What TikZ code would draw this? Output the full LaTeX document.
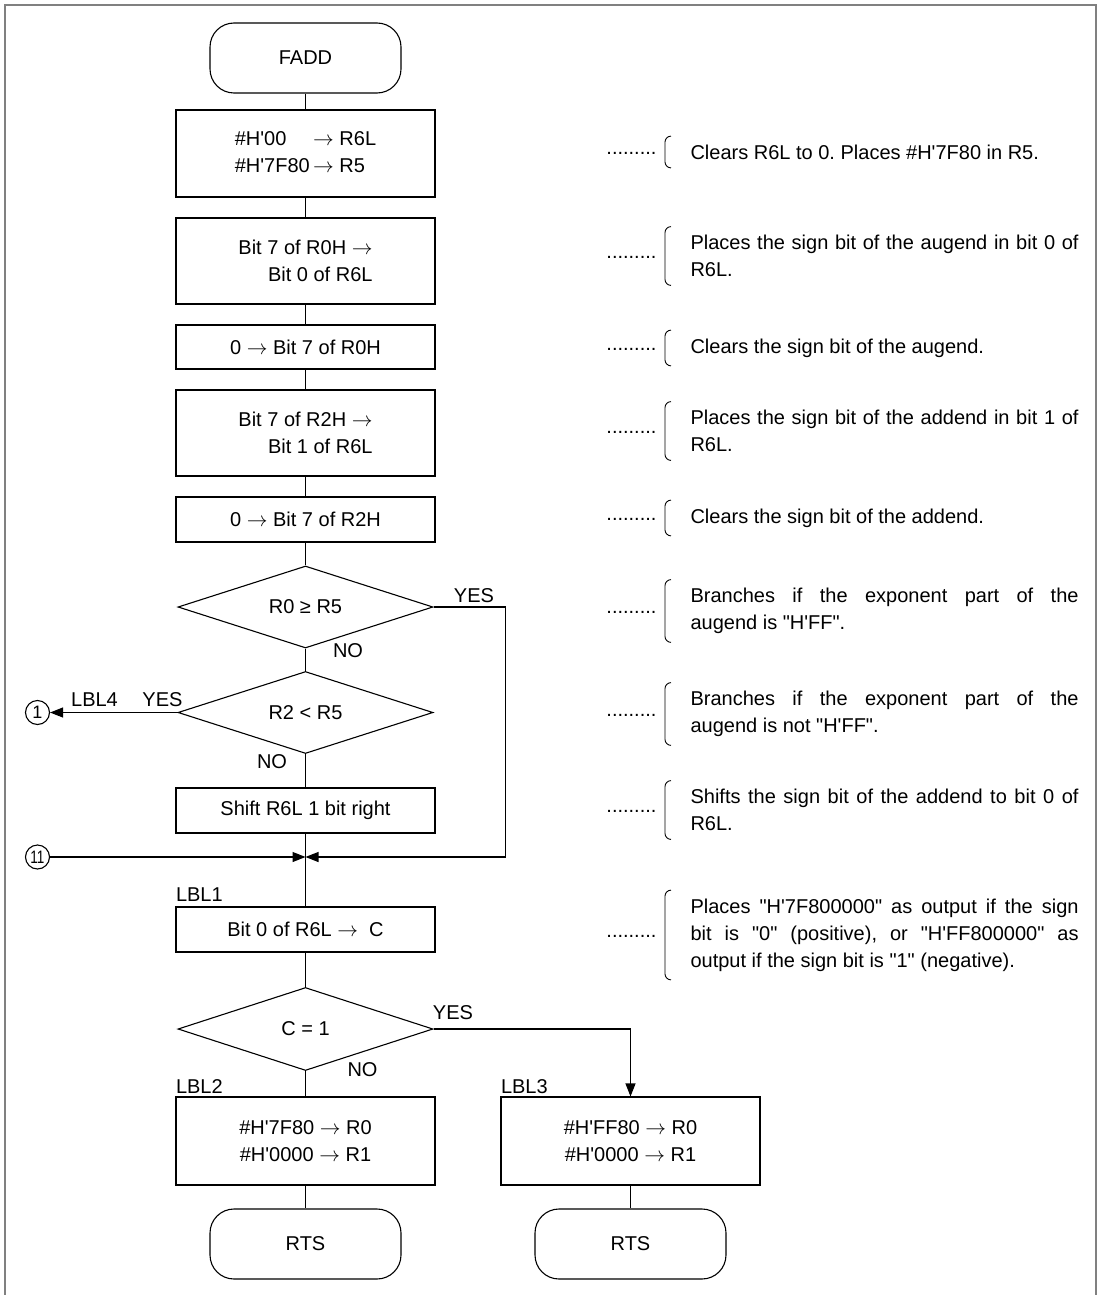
\documentclass[tikz,border=0pt]{standalone}
\usepackage{fontspec}
\setmainfont{Liberation Sans}[Ligatures=TeXOff]
\usetikzlibrary{arrows.meta,positioning,shapes.geometric}
\tikzset{
     terminal/.style = {draw, rectangle, rounded corners=24pt, minimum width=191pt, minimum height=70pt},
     proc/.style     = {draw, rectangle, minimum width=259pt, inner sep=0pt},
     test/.style     = {draw, diamond, aspect=3.1, minimum width=255pt, minimum height=82pt, inner sep=0pt},
     lbl/.style      = {inner sep=0pt},
     conn/.style     = {draw, circle, minimum size=24pt, inner sep=0pt, font=\fontsize{18}{18}\selectfont},
     note/.style     = {anchor=west, text width=388pt, align=justify, inner xsep=0pt, inner ysep=8pt},
     leader/.style   = {inner sep=0pt, anchor=base east},
     bracket/.style  = {rounded corners=6pt, line width=0.9pt},
     frame/.style    = {draw=black!50, line width=2pt},
    }
\frenchspacing

\begin{document}
\begin{tikzpicture}[x=1pt, y=-1pt, line width=1.1pt, on grid,
    font=\fontsize{20}{27}\selectfont, >={Triangle[length=13pt,width=10pt]}]
  \useasboundingbox (0,0) rectangle (1099,1295);
  \draw[frame] (5,1295) -- (5,5) -- (1096,5) -- (1096,1295);

  % main column
  \node[terminal] (fadd) at (305.5,58) {FADD};
  \node[proc, minimum height=87pt] (init) [below=95.5pt of fadd]
      {\begin{tabular}{@{}l@{\,}l@{}}\#H'00 & $\rightarrow$ R6L\\ \#H'7F80 & $\rightarrow$ R5\end{tabular}};
  \node[proc, minimum height=86pt, align=right] (sgn0) [below=107.5pt of init] {Bit 7 of R0H $\rightarrow$\\Bit 0 of R6L};
  \node[proc, minimum height=44pt] (clr0) [below=86pt of sgn0]   {0 $\rightarrow$ Bit 7 of R0H};
  \node[proc, minimum height=86pt, align=right] (sgn2) [below=86pt of clr0] {Bit 7 of R2H $\rightarrow$\\Bit 1 of R6L};
  \node[proc, minimum height=45pt] (clr2) [below=86.5pt of sgn2] {0 $\rightarrow$ Bit 7 of R2H};
  \node[test] (isinf) [below=87.5pt of clr2]  {R0 ≥ R5};
  \node[test] (isfin) [below=105.5pt of isinf] {R2 < R5};
  \node[proc, minimum height=45pt] (shift) [below=98pt of isfin] {Shift R6L 1 bit right};
  \coordinate[below=46.5pt of shift] (join);
  \node[proc, minimum height=45pt] (tocy) [below=119pt of shift] {Bit 0 of R6L $\rightarrow$~ C};
  \node[test, minimum height=83pt] (isneg) [below=99.5pt of tocy] {C = 1};
  \node[proc, minimum height=88pt, align=center] (pos) [below=112pt of isneg] {\#H'7F80 $\rightarrow$ R0\\\#H'0000 $\rightarrow$ R1};
  \node[proc, minimum height=88pt, align=center] (neg) [right=325pt of pos]   {\#H'FF80 $\rightarrow$ R0\\\#H'0000 $\rightarrow$ R1};
  \node[terminal] (rts1) [below=103pt of pos] {RTS};
  \node[terminal] (rts2) [below=103pt of neg] {RTS};

  % off-page connectors
  \node[conn] (c1)  at (37.5,712.5) {1};
  \node[conn] (c11) at (37.5,857)   {\scalebox{0.75}[1]{11}};

  % branch labels
  \node[lbl] (yes1) at (474,596)    {YES};
  \node[lbl] (no1)  at (348,651)    {NO};
  \node[lbl] (yes2) at (162.5,700)  {YES};
  \node[lbl] (lbl4) at (94.5,700)   {LBL4};
  \node[lbl] (no2)  at (272,762)    {NO};
  \node[lbl] (yes3) at (453,1013)   {YES};
  \node[lbl] (no3)  at (362.5,1070) {NO};
  \node[lbl, anchor=south west] (lbl1) at ([yshift=4pt]tocy.north west) {LBL1};
  \node[lbl, anchor=south west] (lbl2) at ([yshift=2pt]pos.north west)  {LBL2};
  \node[lbl, anchor=south west] (lbl3) at ([yshift=2pt]neg.north west)  {LBL3};

  \draw (fadd) -- (init) -- (sgn0) -- (clr0) -- (sgn2) -- (clr2) -- (isinf) -- (isfin)
        -- (shift) -- (tocy) -- (isneg) -- (pos) -- (rts1);
  \draw (neg) -- (rts2);
  \draw[->] (isinf.east) -- ++(72,0) |- (join);
  \draw[->] (c11) -- (join);
  \draw[->] (isfin.west) -- (c1);
  \draw[->] (isneg.east) -| (neg);

  % comments on the right
  \node[note] (a1) at (690,152) {Clears R6L to 0. Places \#H'7F80 in R5.};
  \node[note] (a2) at (690,256) {Places the sign bit of the augend in bit 0 of\linebreak R6L.};
  \node[note] (a3) at (690,348) {Clears the sign bit of the augend.};
  \node[note] (a4) at (690,431) {Places the sign bit of the addend in bit 1 of\linebreak R6L.};
  \node[note] (a5) at (690,518) {Clears the sign bit of the addend.};
  \node[note] (a6) at (690,611) {Branches if the exponent part of the\linebreak augend is "H'FF".};
  \node[note] (a7) at (690,714) {Branches if the exponent part of the\linebreak augend is not "H'FF".};
  \node[note] (a8) at (690,810) {Shifts the sign bit of the addend to bit 0 of\linebreak R6L.};
  \node[note] (a9) at (690,935) {Places "H'7F800000" as output if the sign\linebreak
      bit is "0" (positive), or "H'FF800000" as\linebreak output if the sign bit is "1" (negative).};

  \foreach \i in {1,...,9} {
    \draw[bracket] ([xshift=-19pt]a\i.north west) -- ([xshift=-25pt]a\i.north west)
        -- ([xshift=-25pt]a\i.south west) -- ([xshift=-19pt]a\i.south west);
    \node[leader] (dots\i) at ([xshift=-33pt,yshift=-2pt]a\i.west) {.........};
  }
\end{tikzpicture}
\end{document}
